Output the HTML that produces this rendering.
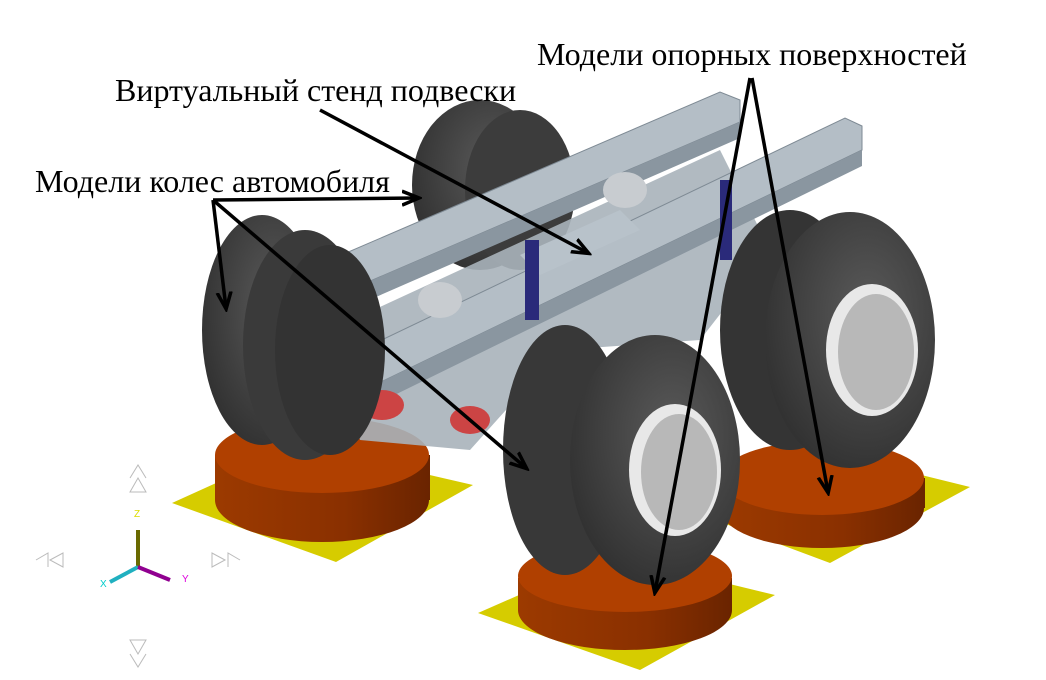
<!DOCTYPE html>
<html><head><meta charset="utf-8"><style>
html,body{margin:0;padding:0;background:#fff;}
svg{display:block;}
text{font-family:"Liberation Serif",serif;font-size:32px;fill:#000;}
</style></head><body>
<svg width="1046" height="680" viewBox="0 0 1046 680" xmlns="http://www.w3.org/2000/svg">
<defs>
<marker id="ah" markerWidth="20" markerHeight="20" refX="16" refY="8" orient="auto" markerUnits="userSpaceOnUse" viewBox="0 0 20 16">
<path d="M0,1 L17,8 L0,15" fill="none" stroke="#000" stroke-width="3.5"/>
</marker>
<radialGradient id="tire" cx="0.6" cy="0.4" r="0.7"><stop offset="0" stop-color="#5a5a5a"/><stop offset="1" stop-color="#2e2e2e"/></radialGradient>
<linearGradient id="side" x1="0" x2="1"><stop offset="0" stop-color="#9c3a00"/><stop offset="0.6" stop-color="#8a3000"/><stop offset="1" stop-color="#6a2400"/></linearGradient>
</defs>

<!-- platforms -->
<polygon points="172,503 300,445 473,485 336,562" fill="#d6cc00"/>
<rect x="215" y="455" width="215" height="45" fill="url(#side)"/>
<ellipse cx="322" cy="500" rx="107" ry="42" fill="url(#side)"/>
<ellipse cx="322" cy="455" rx="107" ry="38" fill="#b04000"/>

<polygon points="715,520 840,455 970,487 830,563" fill="#d6cc00"/>
<rect x="720" y="478" width="205" height="30" fill="url(#side)"/>
<ellipse cx="822" cy="508" rx="102" ry="40" fill="url(#side)"/>
<ellipse cx="822" cy="478" rx="102" ry="37" fill="#b04000"/>

<polygon points="478,613 610,555 775,595 640,670" fill="#d6cc00"/>
<rect x="518" y="578" width="214" height="32" fill="url(#side)"/>
<ellipse cx="625" cy="610" rx="107" ry="40" fill="url(#side)"/>
<ellipse cx="625" cy="576" rx="107" ry="36" fill="#b04000"/>

<!-- back wheel -->
<ellipse cx="480" cy="185" rx="68" ry="85" fill="url(#tire)"/>
<ellipse cx="520" cy="190" rx="55" ry="80" fill="#3c3c3c"/>

<!-- chassis -->
<polygon points="330,330 720,150 770,250 700,340 560,350 470,450 360,440" fill="#a8b2ba" opacity="0.9"/>
<polygon points="260,290 720,92 740,100 740,122 275,322 262,318" fill="#b4bec6" stroke="#7e8a94"/>
<polygon points="275,322 740,122 740,138 282,338" fill="#8a96a0"/>
<polygon points="340,360 845,118 862,126 862,150 360,392 342,386" fill="#b4bec6" stroke="#7e8a94"/>
<polygon points="360,392 862,150 862,166 368,408" fill="#8a96a0"/>
<polygon points="520,255 620,210 640,230 540,275" fill="#b8c2ca"/>
<rect x="525" y="240" width="14" height="80" fill="#2a2a7a"/>
<rect x="720" y="180" width="12" height="80" fill="#2a2a7a"/>
<ellipse cx="440" cy="300" rx="22" ry="18" fill="#c8ccd0"/>
<ellipse cx="625" cy="190" rx="22" ry="18" fill="#c8ccd0"/>
<ellipse cx="382" cy="405" rx="22" ry="15" fill="#c44"/>
<ellipse cx="470" cy="420" rx="20" ry="14" fill="#c44"/>

<!-- left wheel pair -->
<ellipse cx="262" cy="330" rx="60" ry="115" fill="url(#tire)"/>
<ellipse cx="305" cy="345" rx="62" ry="115" fill="#3a3a3a"/>
<ellipse cx="330" cy="350" rx="55" ry="105" fill="#333"/>

<!-- right wheel pair -->
<ellipse cx="790" cy="330" rx="70" ry="120" fill="#343434"/>
<ellipse cx="850" cy="340" rx="85" ry="128" fill="url(#tire)"/>
<ellipse cx="872" cy="350" rx="46" ry="66" fill="#e8e8e8"/>
<ellipse cx="876" cy="352" rx="38" ry="58" fill="#b8b8b8"/>

<!-- front wheel pair -->
<ellipse cx="565" cy="450" rx="62" ry="125" fill="#383838"/>
<ellipse cx="655" cy="460" rx="85" ry="125" fill="url(#tire)"/>
<ellipse cx="675" cy="470" rx="46" ry="66" fill="#e8e8e8"/>
<ellipse cx="679" cy="472" rx="38" ry="58" fill="#b8b8b8"/>

<!-- axis triad -->
<g stroke-width="4" fill="none">
<line x1="138" y1="567" x2="138" y2="530" stroke="#6a6a00"/>
<line x1="138" y1="567" x2="110" y2="582" stroke="#20b0c0"/>
<line x1="138" y1="567" x2="170" y2="580" stroke="#900090"/>
</g>
<text x="134" y="517" style="font-size:10px;fill:#dd0;font-family:'Liberation Sans',sans-serif">Z</text>
<text x="182" y="582" style="font-size:10px;fill:#d0d;font-family:'Liberation Sans',sans-serif">Y</text>
<text x="100" y="587" style="font-size:10px;fill:#0cc;font-family:'Liberation Sans',sans-serif">X</text>
<g fill="none" stroke="#bbb">
<path d="M130,492 L138,478 L146,492Z M130,478 L138,465 L146,478"/>
<path d="M130,640 L138,654 L146,640Z M130,654 L138,667 L146,654"/>
<path d="M50,560 L63,553 L63,567Z M36,560 L48,553 L48,567"/>
<path d="M225,560 L212,553 L212,567Z M240,560 L228,553 L228,567"/>
</g>

<!-- arrows -->
<g stroke="#000" stroke-width="3.5" fill="none" marker-end="url(#ah)">
<line x1="750" y1="78" x2="655" y2="592"/>
<line x1="752" y1="78" x2="828" y2="492"/>
<line x1="320" y1="110" x2="588" y2="253"/>
<line x1="213" y1="200" x2="226" y2="308"/>
<line x1="213" y1="200" x2="418" y2="198"/>
<line x1="213" y1="200" x2="526" y2="468"/>
</g>

<text x="537" y="65">Модели опорных поверхностей</text>
<text x="115" y="101">Виртуальный стенд подвески</text>
<text x="35" y="192">Модели колес автомобиля</text>
</svg>
</body></html>
